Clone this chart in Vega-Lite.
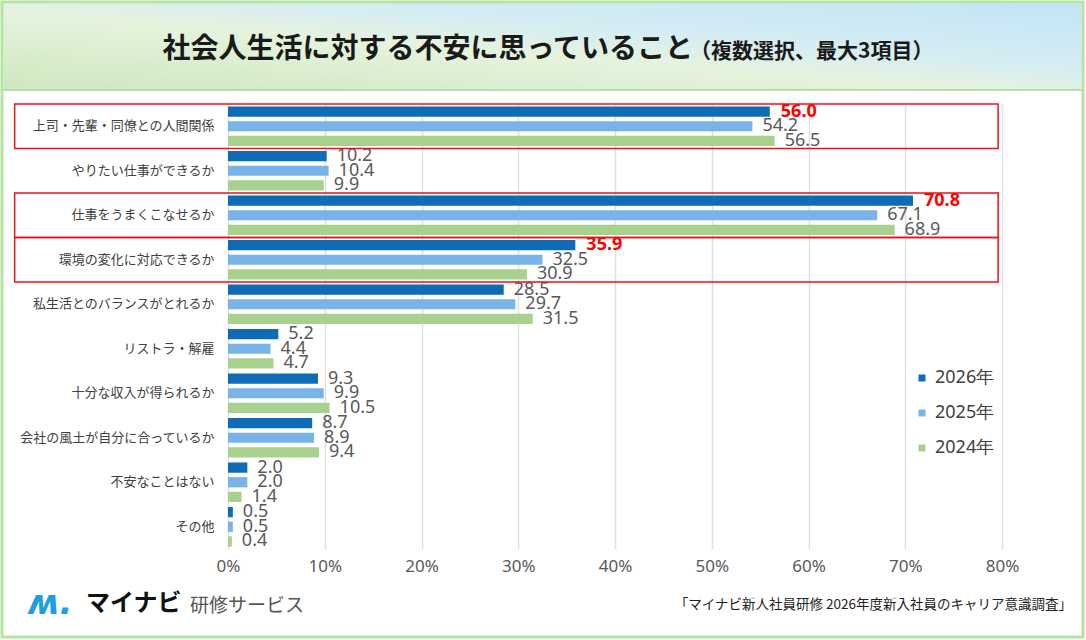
{
  "$schema": "https://vega.github.io/schema/vega-lite/v6.json",
  "width": 774,
  "height": 445,
  "autosize": {"type": "none"},
  "padding": {"left": 228, "top": 104, "right": 84, "bottom": 91},
  "background": "white",
  "config": {"view": {"stroke": null}, "font": "Noto Sans CJK JP"},
  "datasets": {
    "survey": [
      {"cat": "上司・先輩・同僚との人間関係", "year": "2026年", "value": 56.0},
      {"cat": "上司・先輩・同僚との人間関係", "year": "2025年", "value": 54.2},
      {"cat": "上司・先輩・同僚との人間関係", "year": "2024年", "value": 56.5},
      {"cat": "やりたい仕事ができるか", "year": "2026年", "value": 10.2},
      {"cat": "やりたい仕事ができるか", "year": "2025年", "value": 10.4},
      {"cat": "やりたい仕事ができるか", "year": "2024年", "value": 9.9},
      {"cat": "仕事をうまくこなせるか", "year": "2026年", "value": 70.8},
      {"cat": "仕事をうまくこなせるか", "year": "2025年", "value": 67.1},
      {"cat": "仕事をうまくこなせるか", "year": "2024年", "value": 68.9},
      {"cat": "環境の変化に対応できるか", "year": "2026年", "value": 35.9},
      {"cat": "環境の変化に対応できるか", "year": "2025年", "value": 32.5},
      {"cat": "環境の変化に対応できるか", "year": "2024年", "value": 30.9},
      {"cat": "私生活とのバランスがとれるか", "year": "2026年", "value": 28.5},
      {"cat": "私生活とのバランスがとれるか", "year": "2025年", "value": 29.7},
      {"cat": "私生活とのバランスがとれるか", "year": "2024年", "value": 31.5},
      {"cat": "リストラ・解雇", "year": "2026年", "value": 5.2},
      {"cat": "リストラ・解雇", "year": "2025年", "value": 4.4},
      {"cat": "リストラ・解雇", "year": "2024年", "value": 4.7},
      {"cat": "十分な収入が得られるか", "year": "2026年", "value": 9.3},
      {"cat": "十分な収入が得られるか", "year": "2025年", "value": 9.9},
      {"cat": "十分な収入が得られるか", "year": "2024年", "value": 10.5},
      {"cat": "会社の風土が自分に合っているか", "year": "2026年", "value": 8.7},
      {"cat": "会社の風土が自分に合っているか", "year": "2025年", "value": 8.9},
      {"cat": "会社の風土が自分に合っているか", "year": "2024年", "value": 9.4},
      {"cat": "不安なことはない", "year": "2026年", "value": 2.0},
      {"cat": "不安なことはない", "year": "2025年", "value": 2.0},
      {"cat": "不安なことはない", "year": "2024年", "value": 1.4},
      {"cat": "その他", "year": "2026年", "value": 0.5},
      {"cat": "その他", "year": "2025年", "value": 0.5},
      {"cat": "その他", "year": "2024年", "value": 0.4}
    ]
  },
  "layer": [
    {
      "data": {"values": [{}]},
      "layer": [
        {
          "mark": {
            "type": "rect",
            "fill": {
              "gradient": "linear",
              "x1": 0, "y1": 1, "x2": 1, "y2": 0,
              "stops": [
                {"offset": 0, "color": "#CDE8BF"},
                {"offset": 0.45, "color": "#E6F3DE"},
                {"offset": 0.62, "color": "#D6EDF2"},
                {"offset": 1, "color": "#C2E4F8"}
              ]
            }
          },
          "encoding": {
            "x": {"datum": 3.5, "type": "quantitative", "scale": {"domain": [228, 1002]}, "axis": null},
            "x2": {"datum": 1081.5},
            "y": {"datum": 3.5, "type": "quantitative", "scale": {"domain": [104, 549], "reverse": true}, "axis": null},
            "y2": {"datum": 90}
          }
        },
        {
          "mark": {"type": "rule", "color": "#B8E0A6", "strokeWidth": 2},
          "encoding": {
            "x": {"datum": 3.5, "type": "quantitative", "scale": {"domain": [228, 1002]}, "axis": null},
            "x2": {"datum": 1081.5},
            "y": {"datum": 90, "type": "quantitative", "scale": {"domain": [104, 549], "reverse": true}, "axis": null}
          }
        },
        {
          "mark": {"type": "rect", "fill": "transparent", "stroke": "#B6E3A4", "strokeWidth": 3},
          "encoding": {
            "x": {"datum": 2, "type": "quantitative", "scale": {"domain": [228, 1002]}, "axis": null},
            "x2": {"datum": 1083},
            "y": {"datum": 2, "type": "quantitative", "scale": {"domain": [104, 549], "reverse": true}, "axis": null},
            "y2": {"datum": 637}
          }
        },
        {
          "mark": {"type": "text", "text": "社会人生活に対する不安に思っていること", "align": "right", "baseline": "middle", "fontSize": 28, "fontWeight": "bold", "color": "#1A1A1A"},
          "encoding": {
            "x": {"datum": 693, "type": "quantitative", "scale": {"domain": [228, 1002]}, "axis": null},
            "y": {"datum": 50, "type": "quantitative", "scale": {"domain": [104, 549], "reverse": true}, "axis": null}
          }
        },
        {
          "mark": {"type": "text", "text": "（複数選択、最大3項目）", "align": "left", "baseline": "middle", "fontSize": 21, "fontWeight": "bold", "color": "#1A1A1A"},
          "encoding": {
            "x": {"datum": 690, "type": "quantitative", "scale": {"domain": [228, 1002]}, "axis": null},
            "y": {"datum": 52, "type": "quantitative", "scale": {"domain": [104, 549], "reverse": true}, "axis": null}
          }
        },
        {
          "mark": {"type": "text", "text": "ʍ.", "font": "DejaVu Sans", "fontStyle": "italic", "fontWeight": "bold", "align": "left", "baseline": "middle", "fontSize": 34, "color": "#1C9FE6"},
          "encoding": {
            "x": {"datum": 28, "type": "quantitative", "scale": {"domain": [228, 1002]}, "axis": null},
            "y": {"datum": 604, "type": "quantitative", "scale": {"domain": [104, 549], "reverse": true}, "axis": null}
          }
        },
        {
          "mark": {"type": "text", "text": "マイナビ", "align": "left", "baseline": "middle", "fontSize": 24, "fontWeight": "bold", "color": "#111111"},
          "encoding": {
            "x": {"datum": 86, "type": "quantitative", "scale": {"domain": [228, 1002]}, "axis": null},
            "y": {"datum": 604, "type": "quantitative", "scale": {"domain": [104, 549], "reverse": true}, "axis": null}
          }
        },
        {
          "mark": {"type": "text", "text": "研修サービス", "align": "left", "baseline": "middle", "fontSize": 19, "color": "#555555"},
          "encoding": {
            "x": {"datum": 190, "type": "quantitative", "scale": {"domain": [228, 1002]}, "axis": null},
            "y": {"datum": 606, "type": "quantitative", "scale": {"domain": [104, 549], "reverse": true}, "axis": null}
          }
        },
        {
          "mark": {"type": "text", "text": "「マイナビ新人社員研修 2026年度新入社員のキャリア意識調査」", "align": "right", "baseline": "middle", "fontSize": 13.5, "color": "#222222"},
          "encoding": {
            "x": {"datum": 1072, "type": "quantitative", "scale": {"domain": [228, 1002]}, "axis": null},
            "y": {"datum": 605, "type": "quantitative", "scale": {"domain": [104, 549], "reverse": true}, "axis": null}
          }
        }
      ]
    },
    {
      "data": {"name": "survey"},
      "transform": [
        {"calculate": "indexof(['上司・先輩・同僚との人間関係', '仕事をうまくこなせるか', '環境の変化に対応できるか'], datum.cat) >= 0", "as": "hl"}
      ],
      "encoding": {
        "y": {
          "field": "cat",
          "type": "nominal",
          "sort": null,
          "scale": {
            "domain": ["上司・先輩・同僚との人間関係", "やりたい仕事ができるか", "仕事をうまくこなせるか", "環境の変化に対応できるか", "私生活とのバランスがとれるか", "リストラ・解雇", "十分な収入が得られるか", "会社の風土が自分に合っているか", "不安なことはない", "その他"],
            "paddingInner": 0,
            "paddingOuter": 0
          },
          "axis": {"title": null, "ticks": false, "domain": false, "labelPadding": 14, "labelFontSize": 13, "labelColor": "#404040", "labelLimit": 300}
        },
        "x": {
          "field": "value",
          "type": "quantitative",
          "scale": {"domain": [0, 80]},
          "axis": {
            "title": null,
            "values": [0, 10, 20, 30, 40, 50, 60, 70, 80],
            "labelExpr": "datum.value + '%'",
            "labelFlush": false,
            "grid": true,
            "gridColor": "#E2DEE2",
            "gridWidth": 1.5,
            "ticks": false,
            "domain": false,
            "labelFont": "Noto Sans",
            "labelFontSize": 17,
            "labelColor": "#595959",
            "labelPadding": 9
          }
        }
      },
      "layer": [
        {
          "mark": {"type": "bar"},
          "encoding": {
            "yOffset": {"field": "year", "type": "nominal", "scale": {"domain": ["2026年", "2025年", "2024年"], "paddingInner": 0.3, "paddingOuter": 0.17}},
            "color": {
              "field": "year",
              "type": "nominal",
              "scale": {"domain": ["2026年", "2025年", "2024年"], "range": ["#0E6BB5", "#78B4E8", "#A9D18E"]},
              "legend": {
                "title": null,
                "orient": "none",
                "legendX": 685,
                "legendY": 265,
                "symbolType": "square",
                "symbolSize": 49,
                "symbolStrokeWidth": 0,
                "labelFont": "Noto Sans",
                "labelFontSize": 18,
                "labelColor": "#404040",
                "labelOffset": 4,
                "rowPadding": 17
              }
            }
          }
        },
        {
          "transform": [{"filter": "!(datum.hl && datum.year === '2026年')"}],
          "mark": {"type": "text", "align": "left", "baseline": "middle", "dx": 10, "font": "Noto Sans", "fontSize": 18, "color": "#595959"},
          "encoding": {
            "yOffset": {"field": "year", "type": "nominal", "scale": {"domain": ["2026年", "2025年", "2024年"], "paddingInner": 0.3, "paddingOuter": 0.17}},
            "text": {"field": "value", "type": "quantitative", "format": ".1f"}
          }
        },
        {
          "transform": [{"filter": "datum.hl && datum.year === '2026年'"}],
          "mark": {"type": "text", "align": "left", "baseline": "middle", "dx": 11, "font": "Noto Sans", "fontSize": 18, "fontWeight": "bold", "color": "#FF0000"},
          "encoding": {
            "yOffset": {"field": "year", "type": "nominal", "scale": {"domain": ["2026年", "2025年", "2024年"], "paddingInner": 0.3, "paddingOuter": 0.17}},
            "text": {"field": "value", "type": "quantitative", "format": ".1f"}
          }
        },
        {
          "transform": [{"filter": "datum.hl && datum.year === '2026年'"}],
          "mark": {"type": "rect", "fill": "transparent", "stroke": "#E8141C", "strokeWidth": 1.5},
          "encoding": {
            "x": {"datum": -22.05, "type": "quantitative"},
            "x2": {"datum": 79.6}
          }
        }
      ]
    }
  ],
  "resolve": {"scale": {"x": "independent", "y": "independent"}}
}
